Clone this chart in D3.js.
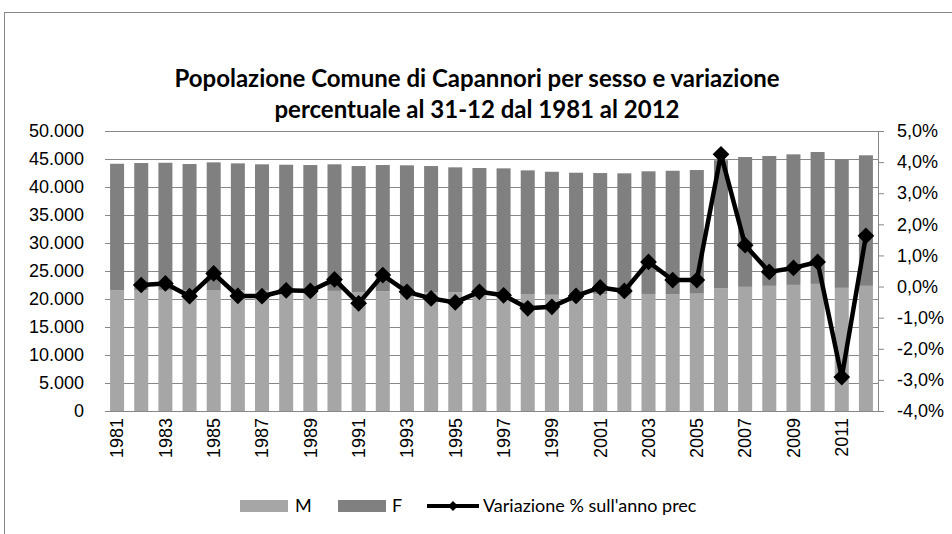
<!DOCTYPE html>
<html>
<head>
<meta charset="utf-8">
<script src="https://cdn.jsdelivr.net/npm/d3@7"></script>
<style>
	body { margin: 0; background: #fff; }
	svg { font-family: Lato, "Noto Sans", sans-serif; }
</style>
</head>
<body>
<div id="viz-holder"></div>
<script>
// dati
let anni = [1981, 1982, 1983, 1984, 1985, 1986, 1987, 1988, 1989, 1990,
	1991, 1992, 1993, 1994, 1995, 1996, 1997, 1998, 1999, 2000,
	2001, 2002, 2003, 2004, 2005, 2006, 2007, 2008, 2009, 2010, 2011, 2012];

let maschi = [21580, 21600, 21620, 21550, 21600, 21550, 21480, 21440, 21420, 21450,
	21170, 21400, 21330, 21250, 21170, 21150, 21120, 20880, 20750, 20800,
	20850, 20830, 20900, 20870, 20960, 21880, 22170, 22350, 22520, 22700, 21990, 22350];

let femmine = [22570, 22680, 22710, 22550, 22800, 22670, 22570, 22540, 22500, 22600,
	22570, 22520, 22540, 22490, 22340, 22240, 22210, 22090, 21970, 21750,
	21640, 21610, 21900, 22030, 22070, 22910, 23180, 23180, 23310, 23550, 22950, 23310];

let variazione = [null, 0.05, 0.10, -0.31, 0.42, -0.30, -0.31, -0.12, -0.14, 0.23,
	-0.54, 0.37, -0.17, -0.38, -0.51, -0.17, -0.28, -0.70, -0.65, -0.30,
	-0.03, -0.14, 0.79, 0.21, 0.21, 4.25, 1.33, 0.47, 0.60, 0.79, -2.91, 1.63];

let popTicks = [0, 5000, 10000, 15000, 20000, 25000, 30000, 35000, 40000, 45000, 50000];
let percTicks = [-4, -3, -2, -1, 0, 1, 2, 3, 4, 5];
let anniEtichette = anni.filter(a => a % 2 == 1);

let titolo = ["Popolazione Comune di Capannori per sesso e variazione",
	"percentuale al 31-12 dal 1981 al 2012"];
let legenda = ["M", "F", "Variazione % sull'anno prec"];

let coloreM = '#a6a6a6';
let coloreF = '#808080';
let grigio = '#878787';

let width = 952;
let height = 534;
let margin = {top: 131, right: 74, bottom: 123, left: 105};

let it = d3.formatLocale({decimal: ",", thousands: ".", grouping: [3], currency: ["€", ""], minus: "-"});
let fmtPop = it.format(",.0f");
let fmtPerc = it.format(".1f");

let svg = d3.select('#viz-holder')
	.append('svg')
	.attr('width', width)
	.attr('height', height);

// bordo del grafico (tagliato a destra e in basso)
svg.append('rect')
	.attr('x', 4.5)
	.attr('y', 12.5)
	.attr('width', width + 20)
	.attr('height', height + 20)
	.attr('fill', 'none')
	.attr('stroke', grigio);

svg.selectAll('.titolo')
	.data(titolo)
	.enter()
	.append('text')
	.attr('class', 'titolo')
	.attr('x', 477)
	.attr('y', (d, i) => 87 + i * 31)
	.attr('text-anchor', 'middle')
	.attr('font-size', 24)
	.attr('font-weight', 'bold')
	.text(d => d);

let x = d3.scaleBand()
	.domain(anni)
	.range([margin.left, width - margin.right])
	.paddingInner(0.42)
	.paddingOuter(0.21);

let yPop = d3.scaleLinear()
	.domain([0, 50000])
	.range([height - margin.bottom, margin.top]);

let yPerc = d3.scaleLinear()
	.domain([-4, 5])
	.range([height - margin.bottom, margin.top]);

// griglia
svg.append('g')
	.selectAll('line')
	.data(popTicks)
	.enter()
	.append('line')
	.attr('x1', margin.left)
	.attr('x2', width - margin.right)
	.attr('y1', d => Math.round(yPop(d)) + 0.5)
	.attr('y2', d => Math.round(yPop(d)) + 0.5)
	.attr('stroke', grigio)
	.attr('stroke-width', 1);

// barre impilate
let righe = anni.map((a, i) => ({anno: a, M: maschi[i], F: femmine[i]}));
let serie = d3.stack().keys(['M', 'F'])(righe);

svg.append('g')
	.selectAll('g')
	.data(serie)
	.enter()
	.append('g')
	.attr('fill', d => d.key == 'M' ? coloreM : coloreF)
	.selectAll('rect')
	.data(d => d)
	.enter()
	.append('rect')
	.attr('x', d => x(d.data.anno))
	.attr('width', x.bandwidth())
	.attr('y', d => yPop(d[1]))
	.attr('height', d => yPop(d[0]) - yPop(d[1]));

// asse sinistro
let assePop = svg.append('g')
	.attr('transform', 'translate(' + margin.left + ',0)')
	.call(d3.axisLeft(yPop).tickValues(popTicks).tickFormat(fmtPop).tickSize(0).tickPadding(21));
assePop.select('.domain').remove();
assePop.selectAll('text').attr('font-size', 18).attr('font-family', null).attr('fill', '#000');

// asse basso
svg.append('line')
	.attr('x1', margin.left)
	.attr('x2', width - margin.right)
	.attr('y1', Math.round(yPop(0)) + 0.5)
	.attr('y2', Math.round(yPop(0)) + 0.5)
	.attr('stroke', grigio);

let asseAnni = svg.append('g')
	.attr('transform', 'translate(0,' + yPop(0) + ')')
	.call(d3.axisBottom(x).tickValues(anniEtichette).tickSize(0));
asseAnni.select('.domain').remove();
asseAnni.selectAll('text')
	.attr('font-size', 18)
	.attr('font-family', null)
	.attr('fill', '#000')
	.attr('transform', 'rotate(-90)')
	.attr('text-anchor', 'end')
	.attr('x', -7)
	.attr('y', 0)
	.attr('dy', '0.35em');

// asse destro
let assePerc = svg.append('g')
	.attr('transform', 'translate(' + (width - margin.right) + ',0)')
	.call(d3.axisRight(yPerc).tickValues(percTicks).tickFormat(d => fmtPerc(d) + '%').tickSize(6).tickPadding(13));
assePerc.select('.domain').attr('stroke', grigio);
assePerc.selectAll('line').attr('stroke', grigio);
assePerc.selectAll('text').attr('font-size', 18).attr('font-family', null).attr('fill', '#000');

// linea variazione
let punti = anni.map((a, i) => ({anno: a, v: variazione[i]})).filter(d => d.v != null);

let linea = d3.line()
	.x(d => x(d.anno) + x.bandwidth() / 2)
	.y(d => yPerc(d.v));

svg.append('path')
	.datum(punti)
	.attr('d', linea)
	.attr('fill', 'none')
	.attr('stroke', '#000')
	.attr('stroke-width', 4.5)
	.attr('stroke-linejoin', 'round');

let rombo = d3.symbol().type(d3.symbolSquare).size(140);

svg.append('g')
	.selectAll('path')
	.data(punti)
	.enter()
	.append('path')
	.attr('d', rombo)
	.attr('transform', d => 'translate(' + (x(d.anno) + x.bandwidth() / 2) + ',' + yPerc(d.v) + ') rotate(45)')
	.attr('fill', '#000');

// legenda
let leg = svg.append('g').attr('transform', 'translate(0,506)');

leg.append('rect').attr('x', 240).attr('y', -6).attr('width', 48).attr('height', 12).attr('fill', coloreM);
leg.append('text').attr('x', 295).attr('dy', '0.35em').attr('font-size', 18).text(legenda[0]);

leg.append('rect').attr('x', 338).attr('y', -6).attr('width', 48).attr('height', 12).attr('fill', coloreF);
leg.append('text').attr('x', 392).attr('dy', '0.35em').attr('font-size', 18).text(legenda[1]);

leg.append('line').attr('x1', 427).attr('x2', 479).attr('stroke', '#000').attr('stroke-width', 4);
leg.append('path').attr('d', d3.symbol().type(d3.symbolSquare).size(50)).attr('transform', 'translate(453,0) rotate(45)');
leg.append('text').attr('x', 483).attr('dy', '0.35em').attr('font-size', 18).text(legenda[2]);
</script>
</body>
</html>
